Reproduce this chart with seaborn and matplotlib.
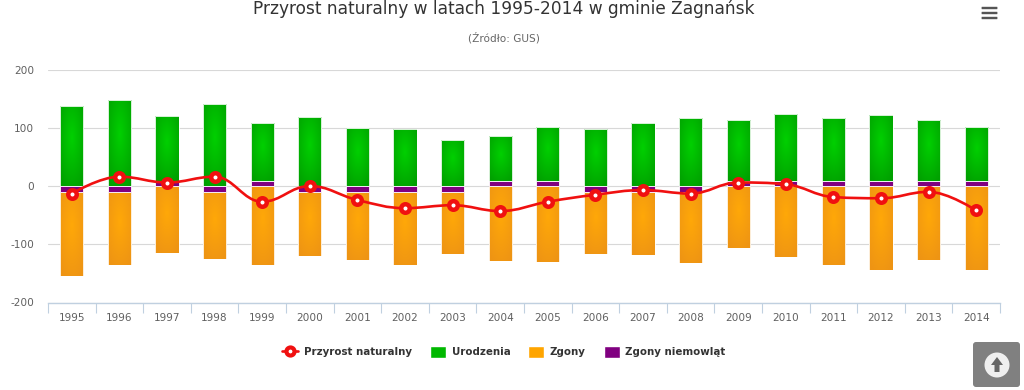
# Przyrost naturalny - gmina Zagnansk
import numpy as np
import pandas as pd
import matplotlib
matplotlib.use('Agg')
import matplotlib.pyplot as plt
import seaborn as sns
from matplotlib.colors import to_rgb
from matplotlib.lines import Line2D
from matplotlib.patches import Patch, PathPatch, Circle, FancyBboxPatch, Polygon
from matplotlib.path import Path

lata = [str(r) for r in range(1995, 2015)]
urodzenia = [138, 148, 112, 140, 100, 118, 100, 97, 79, 77, 94, 97, 109, 117, 105, 116, 109, 114, 106, 94]
zgony = [-145, -125, -115, -115, -135, -111, -117, -125, -106, -129, -130, -106, -109, -122, -107, -122, -135, -145, -127, -144]
zgony_niemowlat = [-10, -10, 8, -10, 8, -10, -10, -10, -10, 8, 8, -10, -10, -10, 8, 8, 8, 8, 8, 8]
przyrost = [-13, 16, 6, 16, -27, 0, -24, -38, -33, -43, -27, -15, -7, -13, 6, 3, -19, -21, -10, -42]
y_ticks = [-200, -100, 0, 100, 200]

ZIELONY = ('#00d000', '#00a000')
POMARANCZ = ('#ffa808', '#ee9414')
FIOLET = '#800080'
CZERWONY = '#f01010'

sns.set_style('white')
plt.rcParams['font.family'] = ['DejaVu Sans']

W, H = 1024, 390
fig = plt.figure(figsize=(W / 100, H / 100), dpi=100)
ax = fig.add_axes([48 / W, 1 - 302.5 / H, 952 / W, 233 / H])


def gradient(c_mid, c_edge):
    # gradient radialny jak w highcharts
    xx, yy = np.meshgrid(np.linspace(0, 1, 60), np.linspace(0, 1, 240))
    t = np.clip(np.hypot(xx - .5, yy - .4) / .7, 0, 1)[..., None]
    return np.array(to_rgb(c_mid)) * (1 - t) + np.array(to_rgb(c_edge)) * t


def slupki(wartosci, dol, kolor, grad=None):
    n = len(ax.patches)
    df = pd.DataFrame({'rok': lata, 'v': wartosci})
    sns.barplot(data=df, x='rok', y='v', bottom=dol, color=kolor, saturation=1, width=.49,
                edgecolor='white', linewidth=.6, ax=ax, zorder=2)
    if grad is None:
        return
    img = gradient(*grad)
    for p in ax.patches[n:]:
        x0, y0 = p.get_x(), min(p.get_y(), p.get_y() + p.get_height())
        im = ax.imshow(img, extent=[x0, x0 + p.get_width(), y0, y0 + abs(p.get_height())],
                       aspect='auto', origin='upper', zorder=1.5, interpolation='bilinear')
        im.set_clip_path(p)
        p.set_facecolor('none')


niem = np.array(zgony_niemowlat)
slupki(urodzenia, np.clip(niem, 0, None), ZIELONY[0], ZIELONY)
slupki(zgony, np.clip(niem, None, 0), POMARANCZ[0], POMARANCZ)
slupki(zgony_niemowlat, np.zeros(len(niem)), FIOLET)


def spline_path(xs, ys, sm=1.5):
    # taki sam spline jak w highcharts
    verts, codes = [(xs[0], ys[0])], [Path.MOVETO]
    right = (xs[0], ys[0])
    n = len(xs)
    for i in range(1, n):
        x, y, lx, ly = xs[i], ys[i], xs[i - 1], ys[i - 1]
        if i < n - 1:
            nx, ny = xs[i + 1], ys[i + 1]
            lcx, lcy = (sm * x + lx) / (sm + 1), (sm * y + ly) / (sm + 1)
            rcx, rcy = (sm * x + nx) / (sm + 1), (sm * y + ny) / (sm + 1)
            corr = (rcy - lcy) * (rcx - x) / (rcx - lcx) + y - rcy
            lcy, rcy = lcy + corr, rcy + corr
            if (lcy > ly and lcy > y) or (lcy < ly and lcy < y):
                lcy = max(ly, y) if lcy > y else min(ly, y)
                rcy = 2 * y - lcy
            elif (rcy > ny and rcy > y) or (rcy < ny and rcy < y):
                rcy = max(ny, y) if rcy > y else min(ny, y)
                lcy = 2 * y - rcy
        else:
            lcx, lcy, rcx, rcy = x, y, x, y
        verts += [right, (lcx, lcy), (x, y)]
        codes += [Path.CURVE4] * 3
        right = (rcx, rcy)
    return Path(verts, codes)


pozycje = np.arange(len(lata))
ax.add_patch(PathPatch(spline_path(pozycje, przyrost), fc='none', ec=CZERWONY, lw=1.9, zorder=3))
sns.scatterplot(x=pozycje, y=przyrost, s=38, color='white', edgecolor=CZERWONY, linewidth=3.2,
                ax=ax, zorder=4, legend=False)

ax.set_xlim(-.5, 19.5)
ax.set_ylim(-200, 200)
ax.set_xlabel('')
ax.set_ylabel('')
ax.set_yticks(y_ticks, [str(v) for v in y_ticks])
ax.set_xticks(np.arange(-.5, 20, 1), [''] * 21)
ax.set_xticks(pozycje, lata, minor=True)
ax.tick_params(axis='x', which='major', bottom=True, length=7.5, width=.8, color='#c0d0e0', direction='out')
ax.tick_params(axis='x', which='minor', bottom=True, length=0, pad=7.5, labelsize=7.6, labelcolor='#606060')
ax.tick_params(axis='y', length=0, pad=10, labelsize=7.6, labelcolor='#606060')
ax.grid(axis='y', color='#d8d8d8', lw=.8, zorder=.5)
ax.set_axisbelow(True)
for s in ['top', 'left', 'right']:
    ax.spines[s].set_visible(False)
ax.spines['bottom'].set_color('#c0d0e0')
ax.spines['bottom'].set_linewidth(1)

fig.text(504 / W, 1 - 9 / H, 'Przyrost naturalny w latach 1995-2014 w gminie Zagnańsk',
         ha='center', va='center', fontsize=12.25, color='#333333')
fig.text(504 / W, 1 - 38 / H, '(Źródło: GUS)', ha='center', va='center', fontsize=7.6, color='#666666')

uchwyty = [
    Line2D([], [], color=CZERWONY, lw=1.9, marker='o', ms=5.8, mfc='white', mec=CZERWONY, mew=3),
    Patch(fc='#00b800'), Patch(fc='#ffa500'), Patch(fc=FIOLET),
]
fig.legend(uchwyty, ['Przyrost naturalny', 'Urodzenia', 'Zgony', 'Zgony niemowląt'], ncol=4,
           loc='center', bbox_to_anchor=(504 / W, 1 - 352 / H), frameon=False,
           prop={'size': 7.4, 'weight': 'bold'}, labelcolor='#333333', handlelength=1.55, handleheight=1.3,
           handletextpad=.55, columnspacing=1.75)

# ikony strony: menu i przycisk do gory
ov = fig.add_axes([0, 0, 1, 1], facecolor='none', zorder=5)
ov.set_xlim(0, W)
ov.set_ylim(H, 0)
ov.axis('off')
for y in [8, 13, 18]:
    ov.add_patch(FancyBboxPatch((982, y - .8), 15, 1.6, boxstyle='round,pad=0.4', fc='#555555', ec='none'))
ov.add_patch(FancyBboxPatch((976, 345), 41, 39, boxstyle='round,pad=3', fc='#808080', ec='none'))
ov.add_patch(Circle((997, 365), 12.5, fc='#efefef', ec='none'))
ov.add_patch(Polygon([(997, 357), (1003, 365), (999.5, 365), (999.5, 372), (994.5, 372), (994.5, 365), (991, 365)],
                     fc='#666666', ec='none'))

fig.savefig('out.png', dpi=100)
